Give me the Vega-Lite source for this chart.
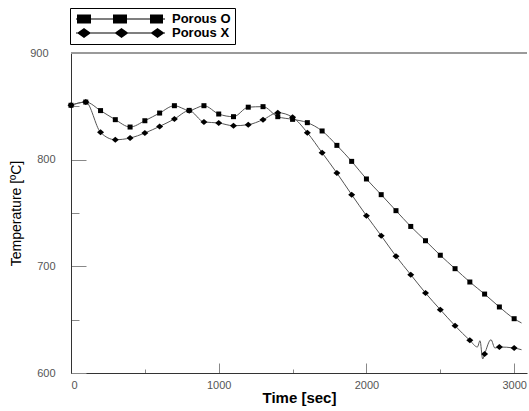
{
  "$schema": "https://vega.github.io/schema/vega-lite/v6.json",
  "width": 456,
  "height": 320,
  "autosize": {"type": "none"},
  "padding": {"left": 71, "top": 53, "right": 2, "bottom": 38},
  "background": "white",
  "config": {
    "view": {"stroke": null},
    "font": "Liberation Sans"
  },
  "data": {
    "values": [
      {"series": "Porous O", "t": 0, "T": 851, "marker": true},
      {"series": "Porous O", "t": 100, "T": 854, "marker": true},
      {"series": "Porous O", "t": 200, "T": 846, "marker": true},
      {"series": "Porous O", "t": 300, "T": 837.5, "marker": true},
      {"series": "Porous O", "t": 400, "T": 830.6, "marker": true},
      {"series": "Porous O", "t": 500, "T": 836.5, "marker": true},
      {"series": "Porous O", "t": 600, "T": 843.7, "marker": true},
      {"series": "Porous O", "t": 700, "T": 850.6, "marker": true},
      {"series": "Porous O", "t": 800, "T": 846.2, "marker": true},
      {"series": "Porous O", "t": 900, "T": 850.6, "marker": true},
      {"series": "Porous O", "t": 1000, "T": 842.8, "marker": true},
      {"series": "Porous O", "t": 1100, "T": 840.3, "marker": true},
      {"series": "Porous O", "t": 1200, "T": 849.2, "marker": true},
      {"series": "Porous O", "t": 1300, "T": 849.7, "marker": true},
      {"series": "Porous O", "t": 1400, "T": 840.3, "marker": true},
      {"series": "Porous O", "t": 1500, "T": 837.8, "marker": true},
      {"series": "Porous O", "t": 1600, "T": 834.7, "marker": true},
      {"series": "Porous O", "t": 1700, "T": 826.9, "marker": true},
      {"series": "Porous O", "t": 1800, "T": 813.4, "marker": true},
      {"series": "Porous O", "t": 1900, "T": 798.4, "marker": true},
      {"series": "Porous O", "t": 2000, "T": 781.9, "marker": true},
      {"series": "Porous O", "t": 2100, "T": 767.2, "marker": true},
      {"series": "Porous O", "t": 2200, "T": 752.2, "marker": true},
      {"series": "Porous O", "t": 2300, "T": 737.4, "marker": true},
      {"series": "Porous O", "t": 2400, "T": 724, "marker": true},
      {"series": "Porous O", "t": 2500, "T": 710.4, "marker": true},
      {"series": "Porous O", "t": 2600, "T": 697.8, "marker": true},
      {"series": "Porous O", "t": 2700, "T": 685.3, "marker": true},
      {"series": "Porous O", "t": 2800, "T": 674, "marker": true},
      {"series": "Porous O", "t": 2900, "T": 661.9, "marker": true},
      {"series": "Porous O", "t": 3000, "T": 650.9, "marker": true},
      {"series": "Porous O", "t": 3050, "T": 646.9, "marker": false},
      {"series": "Porous X", "t": 0, "T": 851, "marker": true},
      {"series": "Porous X", "t": 100, "T": 854, "marker": true},
      {"series": "Porous X", "t": 200, "T": 825.6, "marker": true},
      {"series": "Porous X", "t": 300, "T": 818.7, "marker": true},
      {"series": "Porous X", "t": 400, "T": 820.3, "marker": true},
      {"series": "Porous X", "t": 500, "T": 825, "marker": true},
      {"series": "Porous X", "t": 600, "T": 831.2, "marker": true},
      {"series": "Porous X", "t": 700, "T": 838.1, "marker": true},
      {"series": "Porous X", "t": 800, "T": 845.9, "marker": true},
      {"series": "Porous X", "t": 900, "T": 835.3, "marker": true},
      {"series": "Porous X", "t": 1000, "T": 834.4, "marker": true},
      {"series": "Porous X", "t": 1100, "T": 831.8, "marker": true},
      {"series": "Porous X", "t": 1200, "T": 832.8, "marker": true},
      {"series": "Porous X", "t": 1300, "T": 837.5, "marker": true},
      {"series": "Porous X", "t": 1400, "T": 844, "marker": true},
      {"series": "Porous X", "t": 1500, "T": 839.8, "marker": true},
      {"series": "Porous X", "t": 1600, "T": 825.3, "marker": true},
      {"series": "Porous X", "t": 1700, "T": 806.5, "marker": true},
      {"series": "Porous X", "t": 1800, "T": 787.5, "marker": true},
      {"series": "Porous X", "t": 1900, "T": 767.2, "marker": true},
      {"series": "Porous X", "t": 2000, "T": 747.5, "marker": true},
      {"series": "Porous X", "t": 2100, "T": 728.7, "marker": true},
      {"series": "Porous X", "t": 2200, "T": 709.5, "marker": true},
      {"series": "Porous X", "t": 2300, "T": 692.2, "marker": true},
      {"series": "Porous X", "t": 2400, "T": 675, "marker": true},
      {"series": "Porous X", "t": 2500, "T": 659.4, "marker": true},
      {"series": "Porous X", "t": 2600, "T": 644.3, "marker": true},
      {"series": "Porous X", "t": 2700, "T": 630.6, "marker": true},
      {"series": "Porous X", "t": 2751, "T": 624.4, "marker": false},
      {"series": "Porous X", "t": 2769, "T": 630.3, "marker": false},
      {"series": "Porous X", "t": 2787, "T": 613.1, "marker": false},
      {"series": "Porous X", "t": 2800, "T": 617.8, "marker": true},
      {"series": "Porous X", "t": 2843, "T": 631.2, "marker": false},
      {"series": "Porous X", "t": 2870, "T": 623.4, "marker": false},
      {"series": "Porous X", "t": 2900, "T": 624.4, "marker": true},
      {"series": "Porous X", "t": 3000, "T": 623.4, "marker": true},
      {"series": "Porous X", "t": 3050, "T": 621.8, "marker": false}
    ]
  },
  "layer": [
    {
      "mark": {"type": "rule", "color": "#9a9a9a", "strokeWidth": 1.5},
      "encoding": {"y": {"datum": 900}}
    },
    {
      "mark": {"type": "line", "interpolate": "monotone", "color": "#555555", "strokeWidth": 1},
      "encoding": {
        "x": {
          "field": "t", "type": "quantitative",
          "scale": {"domain": [0, 3087], "nice": false, "zero": false},
          "axis": {
            "orient": "bottom",
            "values": [0, 500, 1000, 1500, 2000, 2500, 3000],
            "labelExpr": "datum.value % 1000 === 0 ? datum.label : ''",
            "format": "d",
            "grid": false,
            "domainColor": "#333333",
            "tickColor": "#888888",
            "tickSize": {"condition": {"test": "datum.value % 1000 === 0", "value": -10}, "value": -4},
            "labelPadding": 16,
            "labelColor": "#555555",
            "labelFontSize": 11,
            "title": "Time [sec]",
            "titleFontSize": 15,
            "titleFontWeight": "bold",
            "titleColor": "#000000",
            "titlePadding": 0
          }
        },
        "y": {
          "field": "T", "type": "quantitative",
          "scale": {"domain": [600, 900], "nice": false, "zero": false},
          "axis": {
            "values": [600, 650, 700, 750, 800, 850, 900],
            "labelExpr": "datum.value % 100 === 0 ? datum.label : ''",
            "grid": false,
            "domainColor": "#333333",
            "tickColor": "#888888",
            "tickSize": {"condition": {"test": "datum.value % 100 === 0 && datum.value < 900", "value": -15}, "value": -8},
            "labelPadding": 31,
            "labelColor": "#555555",
            "labelFontSize": 11,
            "title": "Temperature [ºC]",
            "titleFontSize": 14,
            "titleFontWeight": "normal",
            "titleColor": "#000000",
            "titlePadding": 6
          }
        },
        "detail": {"field": "series"}
      }
    },
    {
      "transform": [{"filter": "datum.marker"}],
      "mark": {"type": "point", "filled": true, "color": "#000000", "opacity": 1, "strokeWidth": 0, "size": 25},
      "encoding": {
        "x": {"field": "t", "type": "quantitative"},
        "y": {"field": "T", "type": "quantitative"},
        "shape": {
          "field": "series", "type": "nominal",
          "scale": {"domain": ["Porous O", "Porous X"], "range": ["square", "M-1.4,0 L0,-1.2 L1.4,0 L0,1.2 Z"]},
          "legend": null
        }
      }
    },
    {
      "transform": [{"filter": "datum.t === 0"}],
      "mark": {"type": "point", "filled": true, "color": "#000000", "opacity": 0, "strokeWidth": 0, "size": 196},
      "encoding": {
        "x": {"field": "t", "type": "quantitative"},
        "y": {"field": "T", "type": "quantitative"},
        "shape": {
          "field": "series", "type": "nominal",
          "scale": {"domain": ["Porous O", "Porous X"], "range": [
            "M-0.714,-0.07 H12 V0.07 H-0.714 Z M-0.571,-0.643 H1.429 V0.643 H-0.571 Z M4.571,-0.643 H6.571 V0.643 H4.571 Z M9.857,-0.643 H11.714 V0.643 H9.857 Z",
            "M-0.714,-0.07 H12 V0.07 H-0.714 Z M-0.571,0 L0.429,-0.714 L1.429,0 L0.429,0.714 Z M4.786,0 L5.786,-0.714 L6.786,0 L5.786,0.714 Z M9.929,0 L10.929,-0.714 L11.929,0 L10.929,0.714 Z"
          ]},
          "legend": {
            "title": null,
            "orient": "none",
            "legendX": -1,
            "legendY": -45,
            "padding": 4,
            "rowPadding": 0,
            "strokeColor": "#000000",
            "fillColor": "#ffffff",
            "symbolSize": 196,
            "symbolStrokeWidth": 0,
            "symbolFillColor": "#000000",
            "symbolOpacity": 1,
            "labelOffset": 84,
            "labelFontSize": 13,
            "labelFontWeight": "bold",
            "labelColor": "#000000",
            "labelFont": "Liberation Sans"
          }
        }
      }
    }
  ],
  "resolve": {"scale": {"shape": "independent"}}
}
